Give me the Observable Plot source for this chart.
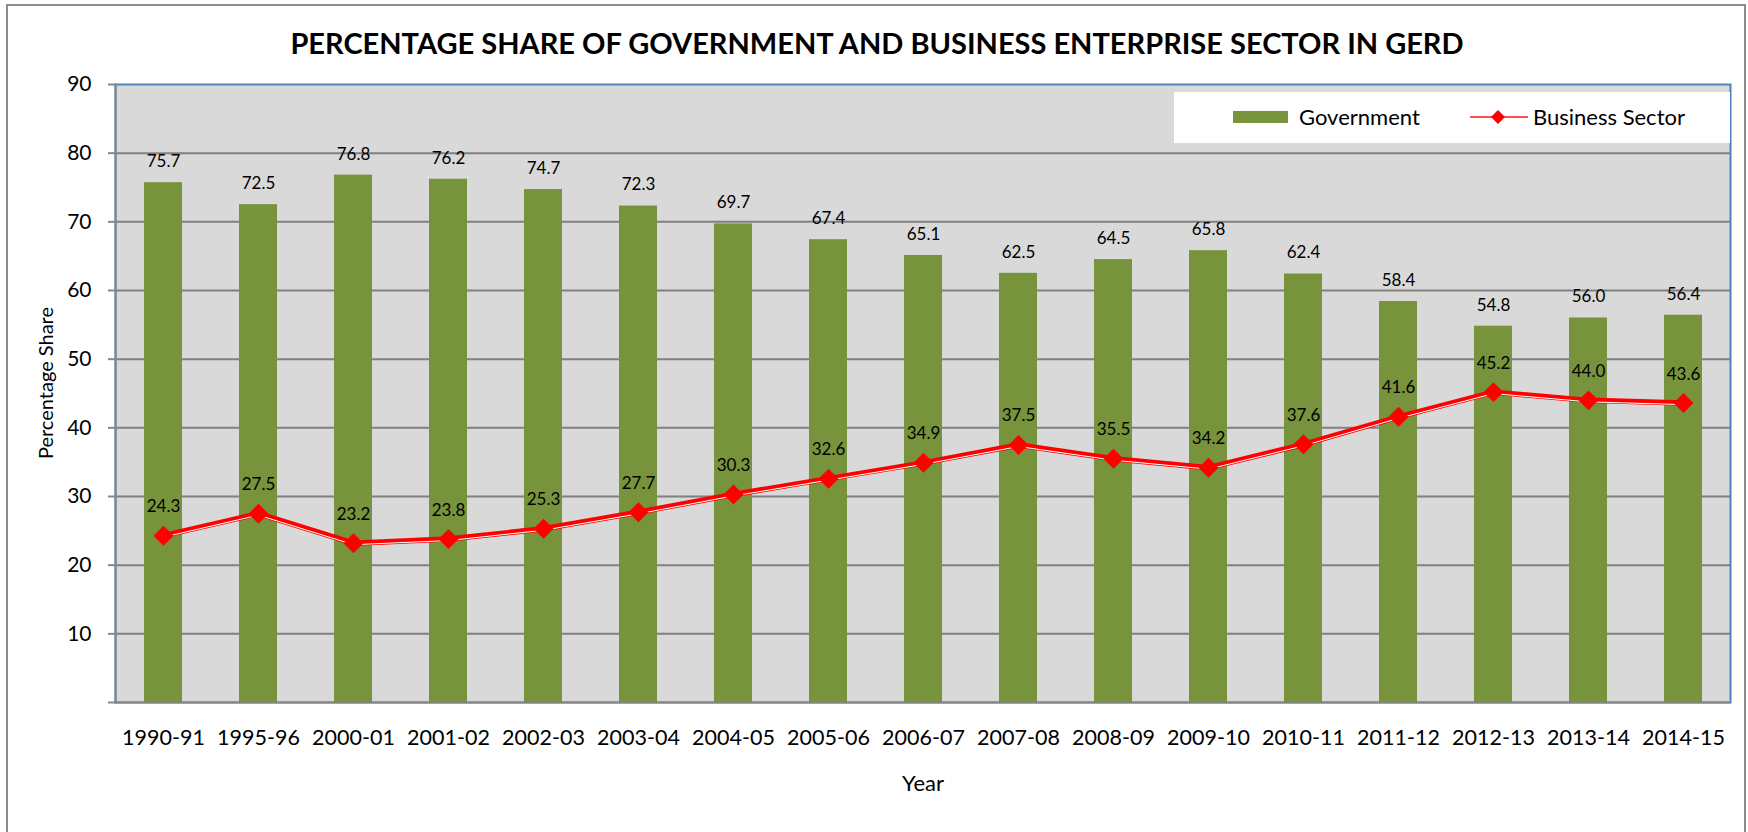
<!DOCTYPE html>
<html>
<head>
<meta charset="utf-8">
<script src="https://cdn.jsdelivr.net/npm/d3@7"></script>
<script src="https://cdn.jsdelivr.net/npm/@observablehq/plot@0.6"></script>
<style>
  html, body { margin: 0; padding: 0; background: #fff; overflow: hidden; }
  #wrap { position: relative; width: 1748px; height: 832px; font-family: Lato, "Open Sans", sans-serif; }
  #border { position: absolute; left: 6px; top: 4px; width: 1740px; height: 900px; box-sizing: border-box; border: 2px solid #8c8c8c; }
  #title { position: absolute; left: 0; width: 1754px; top: 25px; text-align: center; font-weight: 700; font-size: 29px; color: #000; }
  #ylabel { position: absolute; left: 45px; top: 383px; transform: translate(-50%, -50%) rotate(-90deg); white-space: nowrap; font-size: 20px; color: #000; }
  #chart { position: absolute; left: 0; top: 70px; }
  #legend { position: absolute; left: 1174px; top: 92px; width: 556px; height: 51px; background: #fff; font-size: 22px; color: #000; }
  #legend .sw { position: absolute; left: 59px; top: 19px; width: 55px; height: 12px; background: #77933c; }
  #legend .t1 { position: absolute; left: 125px; top: 10px; line-height: 30px; }
  #legend svg { position: absolute; left: 296px; top: 15px; }
  #legend .t2 { position: absolute; left: 359px; top: 10px; line-height: 30px; }
</style>
</head>
<body>
<div id="wrap">
  <div id="border"></div>
  <div id="title">PERCENTAGE SHARE OF GOVERNMENT AND BUSINESS ENTERPRISE SECTOR IN GERD</div>
  <div id="chart"></div>
  <div id="ylabel">Percentage Share</div>
  <div id="legend">
    <div class="sw"></div>
    <div class="t1">Government</div>
    <svg width="58" height="20"><line x1="0" y1="10" x2="58" y2="10" stroke="#ff5050" stroke-width="2"/><path d="M28,3 L35,10 L28,17 L21,10 Z" fill="#ff0000"/></svg>
    <div class="t2">Business Sector</div>
  </div>
</div>
<script>
const years = ["1990-91","1995-96","2000-01","2001-02","2002-03","2003-04","2004-05","2005-06","2006-07","2007-08","2008-09","2009-10","2010-11","2011-12","2012-13","2013-14","2014-15"];
const government = [75.7,72.5,76.8,76.2,74.7,72.3,69.7,67.4,65.1,62.5,64.5,65.8,62.4,58.4,54.8,56.0,56.4];
const business = [24.3,27.5,23.2,23.8,25.3,27.7,30.3,32.6,34.9,37.5,35.5,34.2,37.6,41.6,45.2,44.0,43.6];
const yTicks = [0,10,20,30,40,50,60,70,80,90];
const yGrid = [10,20,30,40,50,60,70,80];

const rows = years.map((year, i) => ({year, gov: government[i], bus: business[i]}));

const chart = Plot.plot({
  width: 1748,
  height: 762,
  marginLeft: 115,
  marginRight: 18,
  marginTop: 14,
  marginBottom: 130,
  style: {fontFamily: "Lato, 'Open Sans', sans-serif", background: "transparent", color: "#000"},
  x: {type: "band", domain: years, paddingInner: 0.6, paddingOuter: 0.3, label: null},
  y: {domain: [0, 90], label: null},
  marks: [
    Plot.frame({fill: "#d9d9d9", stroke: null}),
    Plot.gridY(yGrid, {stroke: "#808080", strokeOpacity: 1, strokeWidth: 2}),
    Plot.barY(rows, {x: "year", y: "gov", fill: "#77933c"}),
    Plot.frame({stroke: "#4f81bd", strokeWidth: 2}),
    Plot.frame({anchor: "left", stroke: "#868686", strokeWidth: 2}),
    Plot.ruleY([0], {stroke: "#868686", strokeWidth: 2}),
    Plot.axisY({ticks: yTicks, tickFormat: d => d === 0 ? "" : d, tickSize: 7, tickPadding: 17, fontSize: 21, stroke: "#868686", strokeWidth: 2, label: null}),
    Plot.axisX({tickSize: 0, tickPadding: 27, fontSize: 21.5, label: null}),
    Plot.line(rows, {x: "year", y: "bus", stroke: "#ff0000", strokeWidth: 5.5}),
    Plot.line(rows, {x: "year", y: "bus", stroke: "#ffffff", strokeWidth: 1, dy: 1.5}),
    Plot.dot(rows, {x: "year", y: "bus", symbol: "diamond2", r: 9, fill: "#ff0000", stroke: null}),
    Plot.text(rows, {x: "year", y: "gov", text: d => d.gov.toFixed(1), dy: -21, fontSize: 17, fill: "#000"}),
    Plot.text(rows, {x: "year", y: "bus", text: d => d.bus.toFixed(1), dy: -29, fontSize: 17, fill: "#000"}),
    Plot.text(["Year"], {frameAnchor: "bottom", dy: 88, fontSize: 22, fill: "#000"})
  ]
});
document.getElementById("chart").appendChild(chart);
</script>
</body>
</html>
